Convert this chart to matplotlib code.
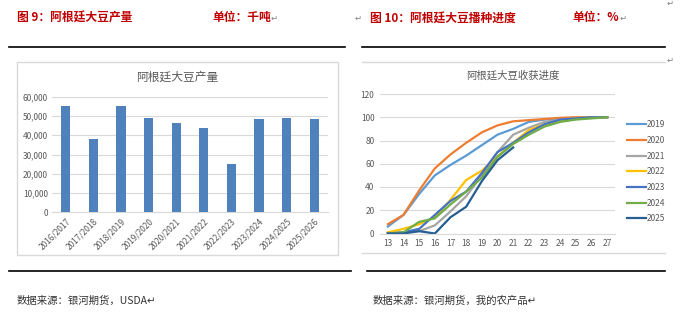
import matplotlib.pyplot as plt
from matplotlib.lines import Line2D
from matplotlib.patches import Rectangle
from matplotlib.ticker import FuncFormatter

plt.rcParams['font.family'] = ['Noto Sans CJK SC', 'DejaVu Sans']

# Argentine soybean output, thousand tonnes
seasons = ['2016/2017', '2017/2018', '2018/2019', '2019/2020', '2020/2021',
           '2021/2022', '2022/2023', '2023/2024', '2024/2025', '2025/2026']
output = [55000, 37800, 55300, 48800, 46200, 44000, 25000, 48200, 49000, 48500]

# harvest progress (%) by week
weeks = list(range(13, 28))
h2019 = [6, 16, 34, 50, 59, 67, 76, 85, 90, 96, 98, 99, 99.5, 100, 100]
h2020 = [8, 16, 37, 56, 68, 78, 87, 93, 96.5, 97.5, 98.5, 99.5, 100, 100, 100]
h2021 = [0, 1, 2, 7, 19, 32, 50, 70, 85, 91, 96, 98, 99, 100, 100]
h2022 = [1, 4, 8, 14, 29, 46, 54, 66, 78, 89, 94, 97, 99, 100, 100]
h2023 = [0, 1, 4, 16, 28, 36, 52, 70, 78, 87, 94, 98, 99, 100, 100]
h2024 = [0, 1, 10, 13, 25, 36, 48, 66, 77, 85, 92, 96, 98, 99, 100]
h2025 = [0, 0, 2, 0, 14, 23, 45, 63, 74]
years = ['2019', '2020', '2021', '2022', '2023', '2024', '2025']
series = [h2019, h2020, h2021, h2022, h2023, h2024, h2025]
colors = ['#5B9BD5', '#ED7D31', '#A5A5A5', '#FFC000', '#4472C4', '#70AD47', '#255E91']

W, H = 689, 327
fig = plt.figure(figsize=(W / 100, H / 100), dpi=100)


def fx(x):
    return x / W


def fy(y):
    return 1 - y / H


def hline(x0, x1, y, color='black', lw=1.2):
    fig.add_artist(Line2D([fx(x0), fx(x1)], [fy(y), fy(y)], color=color, lw=lw))


red = '#C00000'
grey = '#595959'

# headers
fig.text(fx(17), fy(18), '图 9：阿根廷大豆产量', color=red, fontsize=8.5,
         fontweight='bold', va='center')
fig.text(fx(212), fy(18), '单位：千吨', color=red, fontsize=8.5,
         fontweight='bold', va='center')
fig.text(fx(271), fy(18), '↵', color='#808080', fontsize=6, va='center')
fig.text(fx(370), fy(18), '图 10：阿根廷大豆播种进度', color=red, fontsize=8.5,
         fontweight='bold', va='center')
fig.text(fx(572), fy(18), '单位：%', color=red, fontsize=8.5,
         fontweight='bold', va='center')
fig.text(fx(620), fy(18), '↵', color='#808080', fontsize=6, va='center')
fig.text(fx(355), fy(18), '↵', color='#808080', fontsize=6, va='center')
fig.text(fx(667), fy(3), '↵', color='#808080', fontsize=6, va='center')
fig.text(fx(667), fy(60), '↵', color='#808080', fontsize=6, va='center')

hline(9, 345, 47)
hline(362, 665, 47)
hline(9, 351, 271)
hline(367, 665, 271)

fig.text(fx(17), fy(301), '数据来源：银河期货，USDA↵', color='#333333',
         fontsize=7.5, va='center')
fig.text(fx(373), fy(301), '数据来源：银河期货，我的农产品↵', color='#333333',
         fontsize=7.5, va='center')

# bar chart frame
fig.add_artist(Rectangle((fx(17), fy(255)), fx(338) - fx(17), fy(62) - fy(255),
                         transform=fig.transFigure, fill=False,
                         edgecolor='#D9D9D9', lw=1))
# line chart frame (top/bottom rules only)
hline(362, 665, 62, color='#D9D9D9', lw=1)
hline(362, 665, 253, color='#D9D9D9', lw=1)

# bar chart
ax1 = fig.add_axes([fx(52), fy(212.3), fx(328) - fx(52), fy(96.7) - fy(212.3)])
ax1.bar(range(len(seasons)), output, width=0.34, color='#4F81BD', zorder=3)
ax1.set_ylim(0, 60000)
ax1.set_xlim(-0.5, len(seasons) - 0.5)
ax1.set_yticks(range(0, 60001, 10000))
ax1.yaxis.set_major_formatter(FuncFormatter(lambda v, p: f'{int(v):,}'))
ax1.set_xticks(range(len(seasons)))
ax1.set_xticklabels(seasons, rotation=45, ha='right', rotation_mode='anchor')
ax1.tick_params(axis='both', length=0, labelsize=6, colors=grey, pad=3)
ax1.grid(axis='y', color='#D9D9D9', lw=0.8, zorder=0)
for s in ax1.spines.values():
    s.set_visible(False)
ax1.spines['bottom'].set_visible(True)
ax1.spines['bottom'].set_color('#D9D9D9')
fig.text(fx(177), fy(77), '阿根廷大豆产量', color=grey, fontsize=8.5,
         ha='center', va='center')

# harvest progress lines
ax2 = fig.add_axes([fx(380), fy(233.5), fx(615) - fx(380), fy(94) - fy(233.5)])
for yr, vals, c in zip(years, series, colors):
    ax2.plot(weeks[:len(vals)], vals, color=c, lw=1.6, label=yr)
ax2.set_xlim(12.5, 27.5)
ax2.set_ylim(0, 120)
ax2.set_xticks(weeks)
ax2.set_yticks(range(0, 121, 20))
ax2.tick_params(axis='both', length=0, labelsize=6, colors=grey, pad=4)
ax2.grid(axis='y', color='#D9D9D9', lw=0.8)
ax2.set_axisbelow(True)
for s in ax2.spines.values():
    s.set_visible(False)
ax2.spines['bottom'].set_visible(True)
ax2.spines['bottom'].set_color('#D9D9D9')
fig.text(fx(513), fy(76), '阿根廷大豆收获进度', color=grey, fontsize=7.5,
         ha='center', va='center')
ax2.legend(loc='upper left', bbox_to_anchor=(fx(624), fy(117)),
           bbox_transform=fig.transFigure, frameon=False, fontsize=6,
           labelcolor=grey, handlelength=2.2, handletextpad=0.1,
           labelspacing=0.8, borderaxespad=0)

fig.savefig('out.png', dpi=100)
